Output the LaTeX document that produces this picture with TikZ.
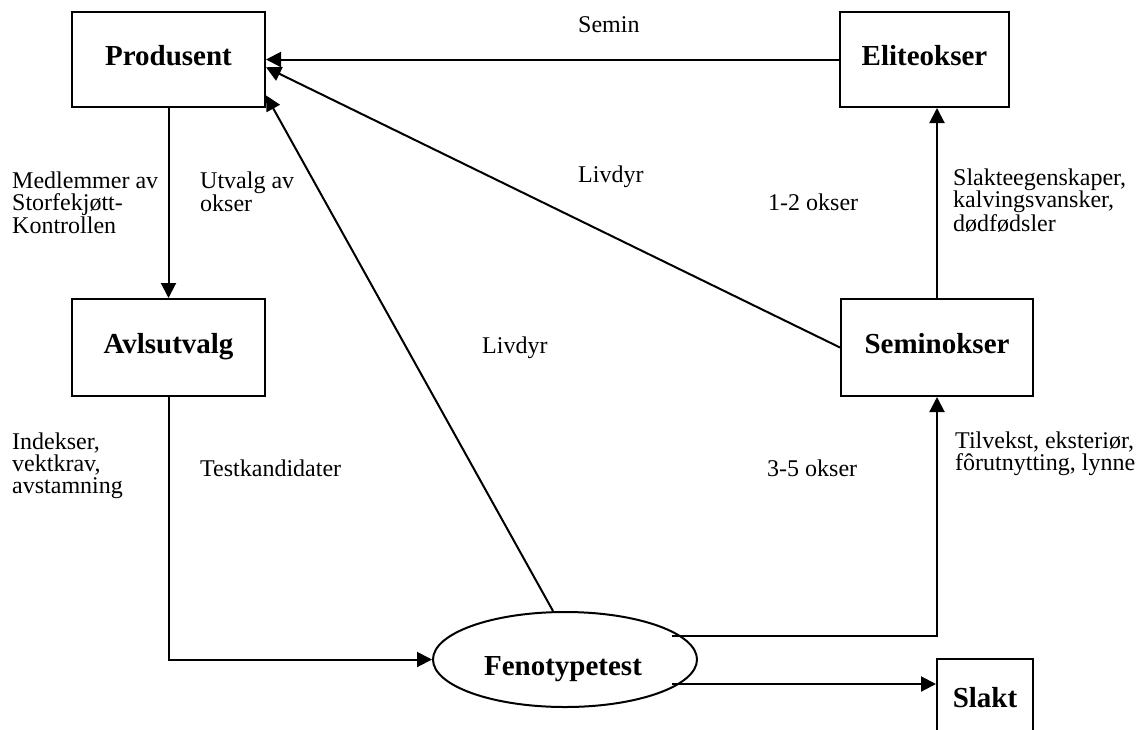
\documentclass[tikz,border=0pt]{standalone}
\usepackage{fontspec}
\setmainfont{Liberation Serif}
\usetikzlibrary{shapes.geometric,arrows.meta,calc}
\begin{document}
\begin{tikzpicture}[x=1pt,y=-1pt,
  box/.style={draw,line width=2pt,inner sep=0pt,font=\fontsize{29}{32}\selectfont\bfseries,text height=20pt,text depth=9pt},
  lbl/.style={inner sep=0pt,anchor=base west,align=left,font=\fontsize{24}{21.7}\selectfont},
  conn/.style={line width=2pt},
  arr/.style={conn,-{Triangle[length=15pt,width=15pt]}}]
\useasboundingbox (0,0) rectangle (1138,729);
\clip (0,0) rectangle (1138,729);
% boxes
\node[box,minimum width=193pt,minimum height=95pt] (prod) at (168.5,59.5) {Produsent};
\node[box,minimum width=169pt,minimum height=95pt] (elite) at (924.5,59.5) {Eliteokser};
\node[box,minimum width=193pt,minimum height=97pt] (avl) at (168.5,347.5) {Avlsutvalg};
\node[box,minimum width=192pt,minimum height=97pt] (semi) at (937,347.5) {Seminokser};
\node[box,minimum width=96pt,minimum height=97pt,text depth=21pt] (slakt) at (985,707.5) {Slakt};
\node[draw,ellipse,line width=2pt,minimum width=264pt,minimum height=95pt,inner sep=0pt] (feno) at (565,659.5) {};
\node[font=\fontsize{29}{32}\selectfont\bfseries,inner sep=0pt,anchor=base] (fenotxt) at (563,675) {Fenotypetest};
% helper coordinates
\coordinate (p2) at ($(prod.north east)!0.58!(prod.south east)$);
\coordinate (p3) at ($(prod.north east)!0.87!(prod.south east)$);
\coordinate (ftop) at ($(feno.north)+(-12,0)$);
\coordinate (fe1) at ($(feno.center)+(107,-23.5)$);
\coordinate (fe2) at ($(feno.center)+(107,24.5)$);
% connectors
\draw[arr] (elite.west) -- (prod.east);
\draw[arr] (semi.west) -- (p2);
\draw[arr] (ftop) -- (p3);
\draw[arr] (prod.south) -- (avl.north);
\draw[arr] (avl.south) |- (feno.west);
\draw[arr] (semi.north) -- (semi.north |- elite.south);
\draw[arr] (fe1) -| (semi.south);
\draw[arr] (fe2) -- (fe2 -| slakt.west);
% labels (multi-line labels are anchored at the baseline of their last line)
\node[lbl] (l1) at (578,32) {Semin};
\node[lbl] (l2) at (12,233) {Medlemmer av\\Storfekjøtt-\\Kontrollen};
\node[lbl] (l3) at (200,211) {Utvalg av\\okser};
\node[lbl] (l4) at (578,182) {Livdyr};
\node[lbl] (l5) at (768,210) {1-2 okser};
\node[lbl] (l6) at (953,231) {Slakteegenskaper,\\kalvingsvansker,\\dødfødsler};
\node[lbl] (l7) at (482,353) {Livdyr};
\node[lbl] (l8) at (12,493) {Indekser,\\vektkrav,\\avstamning};
\node[lbl] (l9) at (200,476) {Testkandidater};
\node[lbl] (l10) at (767,476) {3-5 okser};
\node[lbl] (l11) at (955,470) {Tilvekst, eksteriør,\\fôrutnytting, lynne};
\end{tikzpicture}
\end{document}
